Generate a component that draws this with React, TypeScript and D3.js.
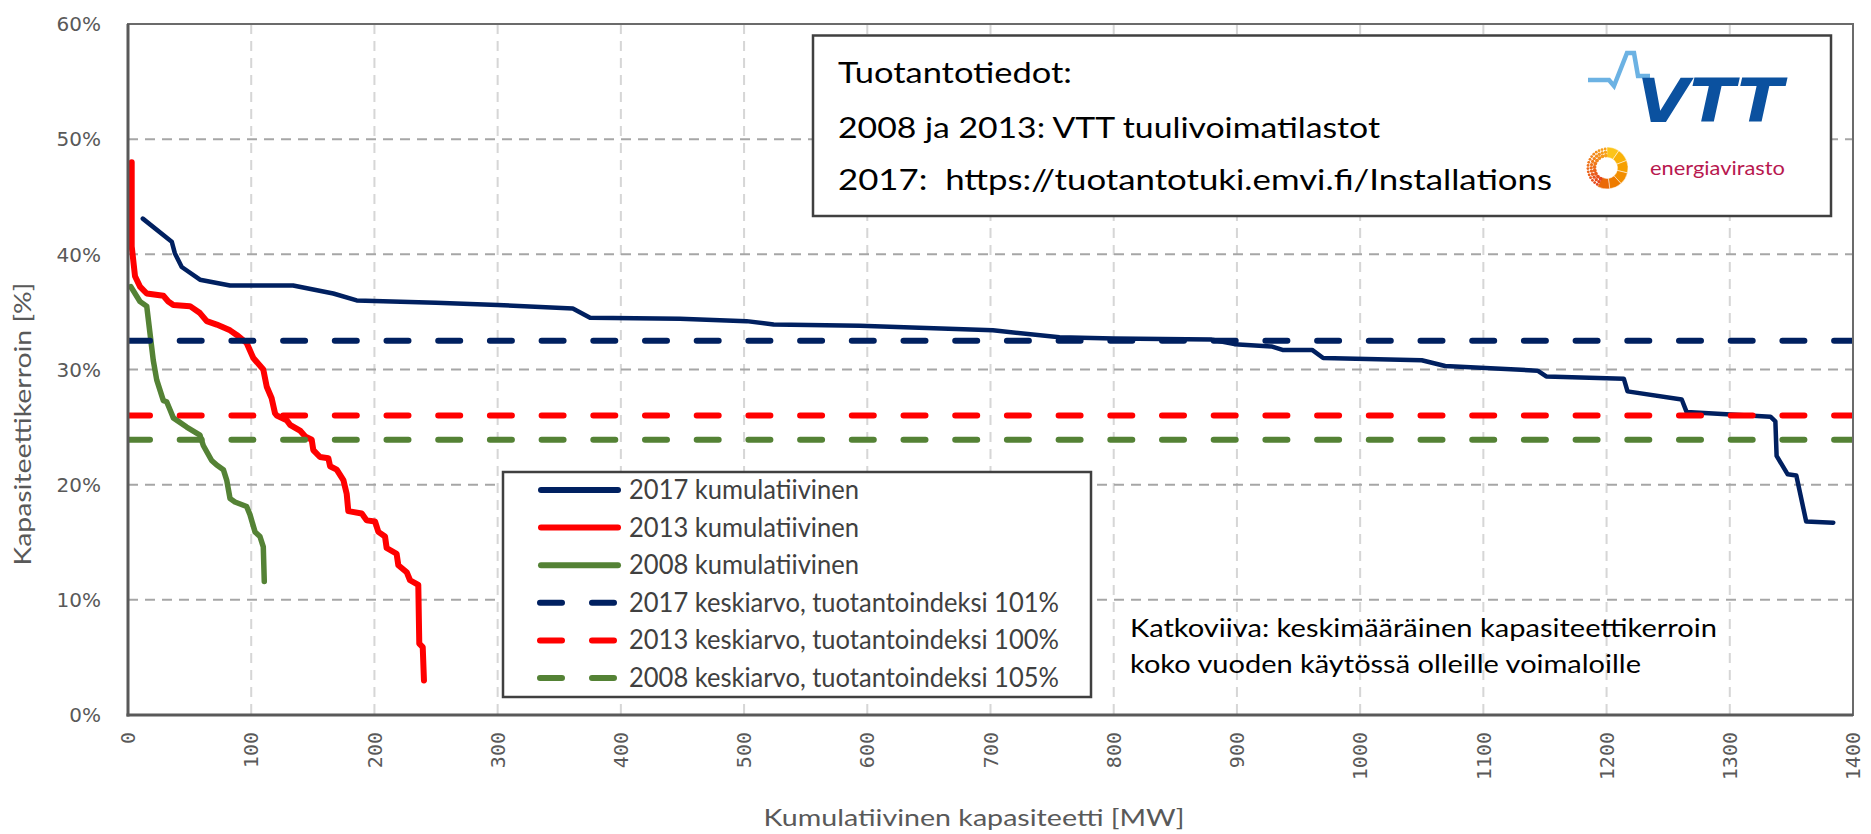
import React from 'react';
import * as d3 from 'd3';

const W = 1871;
const H = 834;
const plot = { left: 128, right: 1853, top: 24, bottom: 715 };

// Cumulative capacity [MW] vs capacity factor [%]
const cum2017: [number, number][] = [
  [12, 43.1], [35.5, 41.1], [38, 40.1], [43.6, 38.9], [58.4, 37.8], [82.8, 37.3],
  [134, 37.3], [166.6, 36.6], [185.6, 36.0], [250, 35.8], [300, 35.6], [361, 35.3],
  [375, 34.5], [448, 34.4], [502, 34.2], [524, 33.9], [594, 33.8], [702, 33.4],
  [756, 32.8], [800, 32.7], [879, 32.6], [898, 32.2], [928, 32.0], [937, 31.7],
  [961, 31.7], [970, 31.0], [1050, 30.8], [1069, 30.3], [1144, 29.9], [1151, 29.4],
  [1214, 29.2], [1217, 28.1], [1261, 27.4], [1265, 26.3], [1333, 25.9], [1337, 25.5],
  [1338, 22.5], [1347, 20.9], [1354, 20.8], [1362, 16.8], [1384, 16.7],
];

const cum2013: [number, number][] = [
  [3, 48.0], [3, 40.7], [5.7, 38.1], [9.7, 37.2], [15.2, 36.6], [28.7, 36.4],
  [32.7, 35.9], [36.8, 35.6], [50.3, 35.5], [58.4, 34.9], [63.9, 34.2], [72, 33.9],
  [82.8, 33.4], [88.2, 33.0], [96.3, 32.3], [101.7, 31.0], [109.8, 30.0], [112.6, 28.5],
  [116.6, 27.5], [119.3, 26.2], [120.7, 26.0], [128.8, 25.6], [131.5, 25.2], [139.6, 24.7],
  [143.7, 24.2], [149.1, 23.9], [150.4, 23.0], [155.8, 22.4], [162.6, 22.3], [164, 21.6],
  [169.4, 21.3], [174.8, 20.4], [177.5, 19.2], [178.8, 17.7], [189.7, 17.5], [193.7, 16.9],
  [200.5, 16.8], [203.2, 15.9], [208.6, 15.5], [209.9, 14.5], [218, 14.0], [219.4, 13.0],
  [226.2, 12.4], [228.9, 11.7], [235.6, 11.3], [236.4, 6.2], [239.2, 5.9], [240.2, 3.0],
];

const cum2008: [number, number][] = [
  [2.2, 37.2], [5.7, 36.6], [9.7, 35.9], [15.2, 35.5], [17.9, 33.1], [20.5, 30.8],
  [23.3, 29.1], [28.7, 27.3], [31.4, 27.2], [34.1, 26.5], [36.8, 25.8], [47.6, 25.0],
  [58.4, 24.3], [61.1, 23.4], [67.9, 22.1], [72, 21.7], [77.4, 21.3], [80.1, 20.4],
  [82.8, 18.8], [86.8, 18.5], [96.3, 18.1], [99, 17.4], [103.1, 15.9], [107.1, 15.5],
  [109.8, 14.6], [110.6, 11.6],
];

const meanValues = [32.5, 26.0, 23.9];
const seriesColors = ['#002060', '#ff0000', '#548235'];
const seriesWidths = [4.5, 6, 5.5];
const legendLabels = [
  '2017 kumulatiivinen',
  '2013 kumulatiivinen',
  '2008 kumulatiivinen',
  '2017 keskiarvo, tuotantoindeksi 101%',
  '2013 keskiarvo, tuotantoindeksi 100%',
  '2008 keskiarvo, tuotantoindeksi 105%',
];
const xTicks = d3.range(0, 1401, 100);
const yTicks = [0, 10, 20, 30, 40, 50, 60];
const infoLines = [
  'Tuotantotiedot:',
  '2008 ja 2013: VTT tuulivoimatilastot',
  '2017:  https://tuotantotuki.emvi.fi/Installations',
];
const noteLines = [
  'Katkoviiva: keskimääräinen kapasiteettikerroin',
  'koko vuoden käytössä olleille voimaloille',
];

const TXT = "Lato, 'Open Sans', sans-serif";
const AXIS_GRAY = '#595959';

const EnergiaLogo = ({ cx, cy }: { cx: number; cy: number }) => {
  const arc = d3.arc<{ a0: number; a1: number }>()
    .innerRadius(10.5).outerRadius(21)
    .startAngle(d => d.a0).endAngle(d => d.a1);
  const segColors = ['#fcc419', '#f9b208', '#f6a000', '#f28e00', '#ee7b00', '#ea6a08'];
  const step = (Math.PI * 1.15) / segColors.length;
  const dots: { x: number; y: number; r: number; c: string }[] = [];
  [12.5, 15.8, 19.1].forEach((rr, ri) => {
    const n = 10 + ri * 3;
    for (let i = 0; i < n; i++) {
      const a = Math.PI * 1.17 + (i / (n - 1)) * Math.PI * 0.8;
      const t = i / (n - 1);
      dots.push({
        x: cx + rr * Math.sin(a),
        y: cy - rr * Math.cos(a),
        r: 1.9 - ri * 0.25,
        c: d3.interpolateRgb('#e5451b', '#f7a21b')(t),
      });
    }
  });
  return (
    <g>
      {segColors.map((c, i) => (
        <path key={i} transform={`translate(${cx},${cy})`}
          d={arc({ a0: i * step, a1: (i + 1) * step }) || ''} fill={c} stroke="#fff" strokeWidth={0.5} />
      ))}
      {dots.map((d, i) => <circle key={i} cx={d.x} cy={d.y} r={d.r} fill={d.c} />)}
    </g>
  );
};

export default function App() {
  const x = d3.scaleLinear().domain([0, 1400]).range([plot.left, plot.right]);
  const y = d3.scaleLinear().domain([0, 60]).range([plot.bottom, plot.top]);
  const line = d3.line<[number, number]>().x(d => x(d[0])).y(d => y(d[1]));
  const curves = [cum2017, cum2013, cum2008];

  const legendX = 503;
  const legendY = 472;
  const rowY = (i: number) => 490 + i * 37.6;

  return (
    <svg width={W} height={H} style={{ position: 'absolute', left: 0, top: 0, background: '#fff' }}>
      <defs>
        <clipPath id="plotClip">
          <rect x={plot.left} y={plot.top} width={plot.right - plot.left} height={plot.bottom - plot.top} />
        </clipPath>
      </defs>

      {/* vertical gridlines */}
      {xTicks.slice(1, -1).map(t => (
        <line key={'vx' + t} x1={x(t)} x2={x(t)} y1={plot.top} y2={plot.bottom}
          stroke="#d6d6d6" strokeWidth={2} strokeDasharray="10,7" />
      ))}
      {/* horizontal gridlines */}
      {yTicks.slice(1, -1).map(t => (
        <line key={'hy' + t} x1={plot.left} x2={plot.right} y1={y(t)} y2={y(t)}
          stroke="#a6a6a6" strokeWidth={2} strokeDasharray="10,7" />
      ))}

      {/* cumulative curves */}
      {curves.map((c, i) => (
        <path key={'c' + i} d={line(c) || ''} fill="none" stroke={seriesColors[i]}
          strokeWidth={seriesWidths[i]} strokeLinejoin="round" strokeLinecap="round" />
      ))}

      {/* mean lines */}
      <g clipPath="url(#plotClip)">
        {meanValues.map((v, i) => (
          <line key={'m' + i} x1={x(0)} x2={x(1400)} y1={y(v)} y2={y(v)}
            stroke={seriesColors[i]} strokeWidth={6} strokeDasharray="22,29.7" strokeLinecap="round" />
        ))}
      </g>

      {/* plot frame */}
      <rect x={plot.left} y={plot.top} width={plot.right - plot.left} height={plot.bottom - plot.top}
        fill="none" stroke="#6b6b6b" strokeWidth={2} />
      <line x1={plot.left} x2={plot.left} y1={plot.top} y2={plot.bottom + 1.5} stroke={AXIS_GRAY} strokeWidth={3} />
      <line x1={plot.left - 1.5} x2={plot.right} y1={plot.bottom} y2={plot.bottom} stroke={AXIS_GRAY} strokeWidth={3} />

      {/* y tick labels */}
      {yTicks.map(t => (
        <text key={'yl' + t} x={101} y={y(t)} dy="0.36em" textAnchor="end"
          fontFamily="'DejaVu Sans', Verdana, sans-serif" fontSize={20} fill={AXIS_GRAY}>{t}%</text>
      ))}
      {/* x tick labels */}
      {xTicks.map(t => (
        <text key={'xl' + t} transform={`translate(${x(t)},732) rotate(-90)`} dy="0.36em" textAnchor="end"
          fontFamily="'DejaVu Sans Mono', monospace" fontSize={20} fill={AXIS_GRAY}>{t}</text>
      ))}

      {/* axis titles */}
      <text transform="translate(31,424) rotate(-90)" textAnchor="middle" fontFamily={TXT}
        fontSize={24} fill={AXIS_GRAY} textLength={283} lengthAdjust="spacingAndGlyphs">Kapasiteettikerroin [%]</text>
      <text x={974} y={826} textAnchor="middle" fontFamily={TXT} fontSize={24} fill={AXIS_GRAY}
        textLength={421} lengthAdjust="spacingAndGlyphs">Kumulatiivinen kapasiteetti [MW]</text>

      {/* note */}
      {noteLines.map((s, i) => (
        <text key={'n' + i} x={1130} y={637 + i * 36} fontFamily={TXT} fontSize={25} fill="#000"
          textLength={i === 0 ? 587 : 511} lengthAdjust="spacingAndGlyphs">{s}</text>
      ))}

      {/* legend */}
      <rect x={legendX} y={legendY} width={588} height={225} fill="#fff" stroke="#404040" strokeWidth={2.5} />
      {legendLabels.map((s, i) => {
        const ci = i % 3;
        const dashed = i >= 3;
        return (
          <g key={'lg' + i}>
            <line x1={dashed ? 540 : 541} x2={dashed ? 614 : 618} y1={rowY(i)} y2={rowY(i)}
              stroke={seriesColors[ci]} strokeWidth={6} strokeLinecap="round"
              strokeDasharray={dashed ? '22,30' : undefined} />
            <text x={629} y={rowY(i) + 9} fontFamily={TXT} fontSize={26} fill="#404040"
              textLength={i < 3 ? 230 : 430} lengthAdjust="spacingAndGlyphs">{s}</text>
          </g>
        );
      })}

      {/* info box */}
      <rect x={813} y={35.5} width={1018} height={180.5} fill="#fff" stroke="#404040" strokeWidth={2.5} />
      {infoLines.map((s, i) => (
        <text key={'i' + i} x={838} y={[83, 138, 190][i]} fontFamily={TXT} fontSize={28} fill="#000"
          style={{ whiteSpace: 'pre' }}
          textLength={[234, 542, 714][i]} lengthAdjust="spacingAndGlyphs">{s}</text>
      ))}

      {/* VTT logo */}
      <path d="M1588,80 L1609,80 L1614,86 L1627,53 L1634,53 L1638,76 L1650,76"
        fill="none" stroke="#6cb2e3" strokeWidth={4.5} strokeLinejoin="miter" />
      <text x={1637} y={122} fontFamily="'DejaVu Sans', sans-serif" fontWeight="bold" fontStyle="italic"
        fontSize={60} fill="#0b519f" textLength={146} lengthAdjust="spacingAndGlyphs">VTT</text>

      {/* Energiavirasto logo */}
      <EnergiaLogo cx={1607} cy={168} />
      <text x={1650} y={175} fontFamily={TXT} fontSize={20} fill="#b8184f"
        textLength={135} lengthAdjust="spacingAndGlyphs">energiavirasto</text>
    </svg>
  );
}
